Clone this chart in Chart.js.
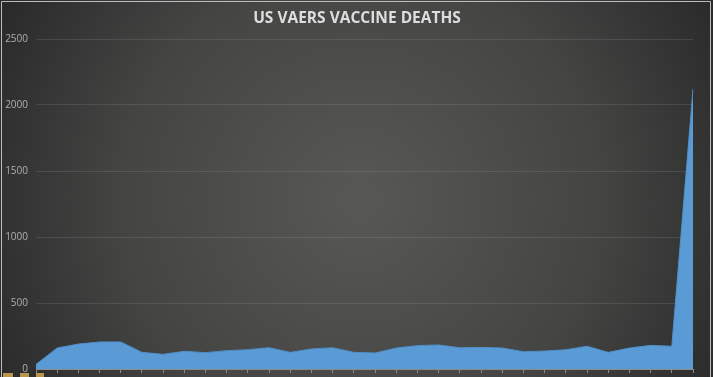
<!DOCTYPE html>
<html>
<head>
<meta charset="utf-8">
<script src="https://cdn.jsdelivr.net/npm/chart.js@4.4.1/dist/chart.umd.min.js"></script>
<style>
html,body{margin:0;padding:0;background:#2b2b2b;}
#wrap{position:relative;width:713px;height:377px;}
canvas{display:block;}
</style>
</head>
<body>
<div id="wrap"><canvas id="c" width="713" height="377"></canvas></div>
<script>
const chartTitle = "US VAERS VACCINE DEATHS";
const categories = Array.from({length: 32}, (_, i) => String(i + 1));
const deaths = [35, 159, 189, 205, 205, 126, 111, 134, 124, 139, 146, 161, 126, 152, 161, 126,
                121, 159, 177, 182, 161, 164, 159, 131, 136, 146, 172, 126, 159, 179, 172, 2120];
const yTicks = [0, 500, 1000, 1500, 2000, 2500];

const bgPlugin = {
  id: 'bg',
  beforeDraw(chart) {
    const ctx = chart.ctx, w = chart.width, h = chart.height;
    ctx.save();
    const g = ctx.createRadialGradient(360, 200, 10, 360, 200, 430);
    g.addColorStop(0, '#575755');
    g.addColorStop(0.55, '#444443');
    g.addColorStop(1, '#262626');
    ctx.fillStyle = g;
    ctx.fillRect(0, 0, w, h);
    ctx.restore();
  },
  afterDraw(chart) {
    const ctx = chart.ctx, w = chart.width, h = chart.height;
    ctx.save();
    ctx.font = 'bold 15.5px "Open Sans", "DejaVu Sans", sans-serif';
    ctx.fillStyle = '#dedede';
    ctx.textAlign = 'center';
    ctx.textBaseline = 'middle';
    ctx.fillText(chartTitle, 357, 19);
    ctx.strokeStyle = '#bdbdbd';
    ctx.lineWidth = 1;
    ctx.beginPath();
    ctx.moveTo(1.5, h); ctx.lineTo(1.5, 1.5); ctx.lineTo(710.5, 1.5); ctx.lineTo(710.5, h);
    ctx.stroke();
    ctx.fillStyle = '#b8964e';
    ctx.fillRect(3, 373, 10, 4);
    ctx.fillRect(20, 373, 9, 4);
    ctx.fillRect(36, 373, 8, 4);
    ctx.restore();
  }
};

new Chart(document.getElementById('c'), {
  type: 'line',
  data: {
    labels: categories,
    datasets: [{
      data: deaths,
      fill: 'origin',
      backgroundColor: '#5b9bd5',
      borderColor: '#4f8fc9',
      borderWidth: 1,
      pointRadius: 0,
      tension: 0
    }]
  },
  options: {
    responsive: false,
    animation: false,
    layout: { padding: { top: 39, right: 20, bottom: 0, left: 0 } },
    plugins: { legend: { display: false }, title: { display: false }, tooltip: { enabled: false } },
    scales: {
      x: {
        offset: false,
        afterFit: s => { s.height = 8; s.paddingLeft = 0; s.paddingRight = 0; },
        ticks: { display: false },
        grid: { drawOnChartArea: false, drawTicks: true, tickLength: 4, color: '#8a8a8a' },
        border: { display: true, color: '#8a8a8a', width: 1 }
      },
      y: {
        min: 0, max: 2500,
        afterFit: s => { s.width = 36; s.paddingTop = 0; s.paddingBottom = 0; },
        afterBuildTicks: s => { s.ticks = yTicks.map(v => ({ value: v })); },
        ticks: { color: '#b0b0b0', padding: 8, font: { size: 10, family: '"Open Sans", sans-serif' },
                 callback: v => String(v) },
        grid: { drawTicks: false, color: 'rgba(255,255,255,0.10)' },
        border: { display: false }
      }
    }
  },
  plugins: [bgPlugin]
});
</script>
</body>
</html>
